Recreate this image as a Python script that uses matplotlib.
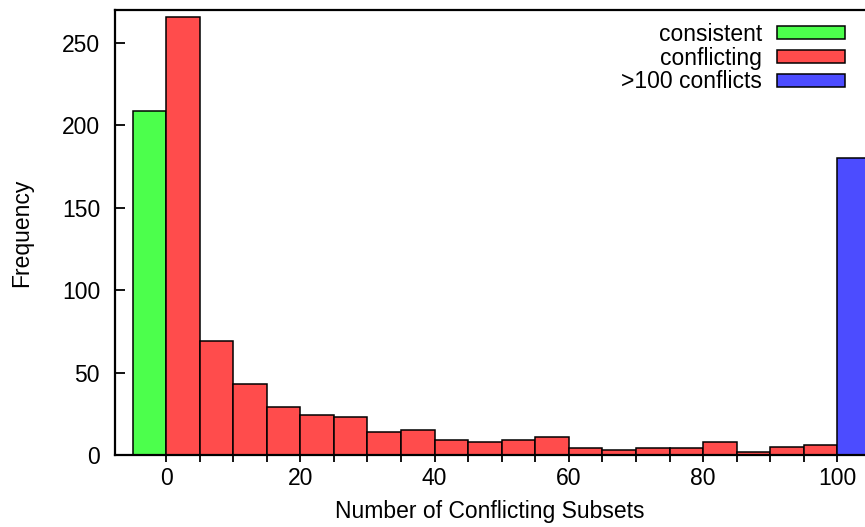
import matplotlib
matplotlib.use("Agg")
import matplotlib.pyplot as plt
import numpy as np
from matplotlib.ticker import MultipleLocator, FixedLocator

plt.rcParams['font.family'] = ['Liberation Sans', 'DejaVu Sans']

bin_width = 5
consistent_left = [-5]
consistent_vals = [209]
conflict_left = list(range(0, 100, 5))
conflict_vals = [266, 69, 43, 29, 24, 23, 14, 15, 9, 8, 9, 11, 4, 3, 4, 4, 8, 2, 5, 6]
over_left = [100]
over_vals = [180]
labels = ['consistent', 'conflicting', '>100 conflicts']
colors = ['#4cff4c', '#ff4c4c', '#4c4cff']
xticks_major = [0, 20, 40, 60, 80, 100]
xticks_minor = list(range(0, 101, 5))

FS = 16.5

fig = plt.figure(figsize=(8.65, 5.27), dpi=100)
ax = fig.add_axes([0.133, 0.1366, 0.867, 0.8444])

ax.bar(consistent_left, consistent_vals, width=bin_width, align='edge', color=colors[0], edgecolor='black', linewidth=1.1, label=labels[0])
ax.bar(conflict_left, conflict_vals, width=bin_width, align='edge', color=colors[1], edgecolor='black', linewidth=1.1, label=labels[1])
ax.bar(over_left, over_vals, width=bin_width, align='edge', color=colors[2], edgecolor='black', linewidth=1.1, label=labels[2])

ax.set_xlim(-7.6, 104.1)
ax.set_ylim(0, 270)
ax.xaxis.set_major_locator(FixedLocator(xticks_major))
ax.xaxis.set_minor_locator(FixedLocator(xticks_minor))
ax.yaxis.set_major_locator(MultipleLocator(50))
ax.tick_params(axis='x', which='both', direction='out', length=5, width=1.3, labelsize=FS, pad=3.4)
ax.tick_params(axis='y', which='both', direction='in', length=7, width=1.3, labelsize=FS, pad=10.8)
for s in ['left', 'bottom', 'top']:
    ax.spines[s].set_linewidth(1.6)
ax.spines['right'].set_visible(False)

ax.set_xlabel('Number of Conflicting Subsets', fontsize=FS, labelpad=7.7)
ax.set_ylabel('Frequency', fontsize=FS, labelpad=21)

leg = fig.legend(loc='upper right', frameon=False, markerfirst=False, fontsize=FS,
                 handlelength=2.97, handleheight=0.48, labelspacing=0.03, handletextpad=0.65,
                 borderpad=0, borderaxespad=0, bbox_to_anchor=(845/865, 1 - 23/527))
for t in leg.get_texts():
    t.set_ha('right')

fig.savefig('out.png', dpi=100)
